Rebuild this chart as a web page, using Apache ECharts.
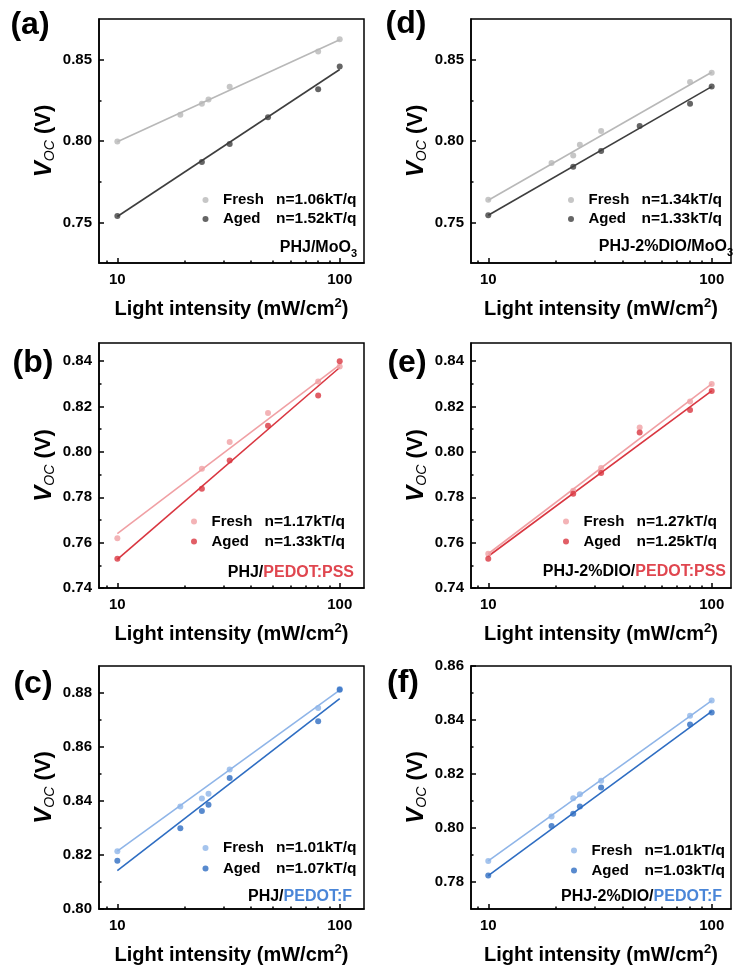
<!DOCTYPE html>
<html><head><meta charset="utf-8">
<script src="https://cdn.jsdelivr.net/npm/echarts@6/dist/echarts.min.js"></script>
<style>html,body{margin:0;padding:0;background:#fff}#c{width:733px;height:968px}</style>
</head><body><div id="c"></div>
<script>
// ---------- data ----------
const intensity = [10, 19.2, 24, 25.7, 32, 47.6, 80, 100];   // mW/cm2
const freshA = [0.7998, 0.8162, 0.8231, 0.8256, 0.8335, null, 0.8552, 0.8628];
const agedA  = [0.7540, null, 0.7871, null, 0.7982, 0.8147, 0.8319, 0.8460];
const freshD = [0.7640, 0.7865, 0.7912, 0.7978, 0.8063, null, 0.8364, 0.8421];
const agedD  = [0.7544, null, 0.7843, null, 0.7939, 0.8094, 0.8231, 0.8337];
const freshB = [0.7619, null, 0.7926, null, 0.8044, 0.8171, 0.8310, 0.8376];
const agedB  = [0.7529, null, 0.7838, null, 0.7962, 0.8115, 0.8249, 0.8400];
const freshE = [0.7551, null, 0.7829, null, 0.7929, 0.8107, 0.8222, 0.8299];
const agedE  = [0.7529, null, 0.7816, null, 0.7907, 0.8085, 0.8185, 0.8268];
const freshC = [0.8214, 0.8380, 0.8409, 0.8427, 0.8517, null, 0.8744, 0.8815];
const agedC  = [0.8179, 0.8299, 0.8363, 0.8386, 0.8485, null, 0.8695, 0.8812];
const freshF = [0.7878, 0.8043, 0.8110, 0.8125, 0.8175, null, 0.8416, 0.8472];
const agedF  = [0.7824, 0.8007, 0.8053, 0.8080, 0.8150, null, 0.8383, 0.8428];

// linear fits (Voc vs log intensity), values at the fit ends
const fitX = [10, 100];
const fitFreshA = [0.7996, 0.8624], fitAgedA = [0.7536, 0.8441];
const fitFreshD = [0.7636, 0.8424], fitAgedD = [0.7544, 0.8336];
const fitFreshB = [0.7640, 0.8384], fitAgedB = [0.7526, 0.8372];
const fitFreshE = [0.7551, 0.8300], fitAgedE = [0.7540, 0.8269];
const fitFreshC = [0.8214, 0.8811], fitAgedC = [0.8142, 0.8779];
const fitFreshF = [0.7878, 0.8472], fitAgedF = [0.7824, 0.8432];

// ideality factors (legend)
const nA = ['1.06', '1.52'], nD = ['1.34', '1.33'], nB = ['1.17', '1.33'];
const nE = ['1.27', '1.25'], nC = ['1.01', '1.07'], nF = ['1.01', '1.03'];

// tick values
const xMajorTicks = [10, 100];
const xMinorTicks = [9, 20, 30, 40, 50, 60, 70, 80, 90];
const yMajorAD = [0.75, 0.80, 0.85], yMinorAD = [0.775, 0.825];
const yMajorBE = [0.74, 0.76, 0.78, 0.80, 0.82, 0.84], yMinorBE = [0.75, 0.77, 0.79, 0.81, 0.83];
const yMajorC = [0.80, 0.82, 0.84, 0.86, 0.88], yMinorC = [0.81, 0.83, 0.85, 0.87];
const yMajorF = [0.78, 0.80, 0.82, 0.84, 0.86], yMinorF = [0.79, 0.81, 0.83, 0.85];

// ---------- styling / layout ----------
const FONT = '"Liberation Sans", Arial, sans-serif';
const GRAY = ['#b8b8b8', '#3e3e3e'];
const RED = ['#f0a0a4', '#d93640'];
const BLUE = ['#8fb5e8', '#2e6dc2'];
const RED_TXT = '#e0464f', BLUE_TXT = '#4a86d8';

const panels = [
  {key:'a', fresh:freshA, aged:agedA, fitF:fitFreshA, fitA:fitAgedA, n:nA, col:GRAY,
   grid:{left:99, top:19, width:265, height:244}, x:[8.27, 128.6], y:[0.725, 0.8752], maj:yMajorAD, min:yMinorAD,
   letter:[30, 25], leg:{left:202.5, top:192, gap:3}, note:{x:357, y:248, text:'PHJ/MoO{s|3}'}},
  {key:'d', fresh:freshD, aged:agedD, fitF:fitFreshD, fitA:fitAgedD, n:nD, col:GRAY,
   grid:{left:471, top:19, width:260, height:244}, x:[8.37, 122], y:[0.725, 0.8752], maj:yMajorAD, min:yMinorAD,
   letter:[406, 24], leg:{left:568, top:192, gap:3}, note:{x:733, y:247, text:'PHJ-2%DIO/MoO{s|3}'}},
  {key:'b', fresh:freshB, aged:agedB, fitF:fitFreshB, fitA:fitAgedB, n:nB, col:RED,
   grid:{left:99, top:343, width:265, height:245}, x:[8.27, 128.6], y:[0.74, 0.848], maj:yMajorBE, min:yMinorBE,
   letter:[33, 363], leg:{left:191, top:513.5, gap:4}, note:{x:354, y:573, text:'PHJ/{r|PEDOT:PSS}'}},
  {key:'e', fresh:freshE, aged:agedE, fitF:fitFreshE, fitA:fitAgedE, n:nE, col:RED,
   grid:{left:471, top:343, width:260, height:245}, x:[8.37, 122], y:[0.74, 0.848], maj:yMajorBE, min:yMinorBE,
   letter:[407, 363], leg:{left:563, top:513.5, gap:4}, note:{x:726, y:572, text:'PHJ-2%DIO/{r|PEDOT:PSS}'}},
  {key:'c', fresh:freshC, aged:agedC, fitF:fitFreshC, fitA:fitAgedC, n:nC, col:BLUE,
   grid:{left:99, top:666, width:265, height:245}, x:[8.27, 128.6], y:[0.80, 0.89], maj:yMajorC, min:yMinorC,
   letter:[33, 684], leg:{left:202.5, top:840, gap:4.5}, note:{x:352, y:897, text:'PHJ/{b|PEDOT:F}'}},
  {key:'f', fresh:freshF, aged:agedF, fitF:fitFreshF, fitA:fitAgedF, n:nF, col:BLUE,
   grid:{left:471, top:666, width:260, height:245}, x:[8.37, 122], y:[0.77, 0.86], maj:yMajorF, min:yMinorF,
   letter:[403, 683], leg:{left:571, top:842.5, gap:4}, note:{x:722, y:897, text:'PHJ-2%DIO/{b|PEDOT:F}'}}
];

const grids = [], xAxes = [], yAxes = [], series = [], legends = [], graphics = [];
const black = {color:'#000', width:1.5};
const pairs = (xs, ys) => xs.map((x, i) => ys[i] == null ? null : [x, ys[i]]).filter(Boolean);

panels.forEach((p, i) => {
  grids.push(Object.assign({show:true, borderColor:'#000', borderWidth:1.5, backgroundColor:'transparent'}, p.grid));
  const lx = [Math.log10(p.x[0]), Math.log10(p.x[1])];
  xAxes.push({
    type:'log', logBase:10, gridIndex:i, min:p.x[0], max:p.x[1], position:'bottom',
    axisLine:{show:true, lineStyle:black}, axisTick:{show:false}, splitLine:{show:false}, minorTick:{show:false},
    axisLabel:{showMinLabel:false, showMaxLabel:false, fontFamily:FONT, fontWeight:'bold', fontSize:15, color:'#000', margin:9},
    name:'Light intensity (mW/cm{sup|2})', nameLocation:'middle', nameGap:34,
    nameTextStyle:{fontFamily:FONT, fontWeight:'bold', fontSize:20, color:'#000', lineHeight:24,
      rich:{sup:{fontFamily:FONT, fontWeight:'bold', fontSize:13, color:'#000', verticalAlign:'top', lineHeight:13}}}
  });
  xAxes.push({
    type:'value', gridIndex:i, min:lx[0], max:lx[1], position:'bottom',
    axisLine:{show:false}, axisLabel:{show:false}, splitLine:{show:false},
    axisTick:{show:true, inside:true, length:5, lineStyle:black, customValues:xMajorTicks.map(Math.log10)}
  });
  xAxes.push({
    type:'value', gridIndex:i, min:lx[0], max:lx[1], position:'bottom',
    axisLine:{show:false}, axisLabel:{show:false}, splitLine:{show:false},
    axisTick:{show:true, inside:true, length:2.5, lineStyle:black, customValues:xMinorTicks.map(Math.log10)}
  });
  yAxes.push({
    type:'value', gridIndex:i, min:p.y[0], max:p.y[1], position:'left',
    axisLine:{show:true, lineStyle:black}, splitLine:{show:false},
    axisTick:{show:true, inside:true, length:5, lineStyle:black, customValues:p.maj},
    axisLabel:{customValues:p.maj, formatter:v => v.toFixed(2), fontFamily:FONT, fontWeight:'bold', fontSize:15, color:'#000', margin:7},
    name:'{v|V}{s|OC}{p| (V)}', nameLocation:'middle', nameGap:42,
    nameTextStyle:{fontFamily:FONT, color:'#000', lineHeight:26, rich:{
      v:{fontFamily:FONT, fontWeight:'bold', fontStyle:'italic', fontSize:24, color:'#000'},
      s:{fontFamily:FONT, fontStyle:'italic', fontSize:14, color:'#000', verticalAlign:'bottom'},
      p:{fontFamily:FONT, fontWeight:'bold', fontSize:22, color:'#000'}}}
  });
  yAxes.push({
    type:'value', gridIndex:i, min:p.y[0], max:p.y[1], position:'left',
    axisLine:{show:false}, axisLabel:{show:false}, splitLine:{show:false},
    axisTick:{show:true, inside:true, length:2.5, lineStyle:black, customValues:p.min}
  });
  const xi = 3 * i, yi = 2 * i;
  const nameF = p.key + '_fresh', nameA = p.key + '_aged';
  series.push({type:'line', xAxisIndex:xi, yAxisIndex:yi, data:pairs(fitX, p.fitF), showSymbol:false, silent:true,
    lineStyle:{color:p.col[0], width:1.6}, z:2});
  series.push({type:'line', xAxisIndex:xi, yAxisIndex:yi, data:pairs(fitX, p.fitA), showSymbol:false, silent:true,
    lineStyle:{color:p.col[1], width:1.6}, z:2});
  series.push({name:nameF, type:'scatter', xAxisIndex:xi, yAxisIndex:yi, data:pairs(intensity, p.fresh),
    symbol:'circle', symbolSize:6, itemStyle:{color:p.col[0]}, z:3});
  series.push({name:nameA, type:'scatter', xAxisIndex:xi, yAxisIndex:yi, data:pairs(intensity, p.aged),
    symbol:'circle', symbolSize:6, itemStyle:{color:p.col[1]}, z:3});
  const labels = {};
  labels[nameF] = '{l|Fresh}{r|n=' + p.n[0] + 'kT/q}';
  labels[nameA] = '{l|Aged}{r|n=' + p.n[1] + 'kT/q}';
  legends.push({
    data:[nameF, nameA], orient:'vertical', left:p.leg.left, top:p.leg.top, padding:0,
    itemWidth:25, itemHeight:6, itemGap:p.leg.gap, icon:'circle', selectedMode:false,
    formatter:name => labels[name],
    textStyle:{fontFamily:FONT, fontWeight:'bold', fontSize:15, color:'#000', lineHeight:16,
      rich:{l:{width:53, fontFamily:FONT, fontWeight:'bold', fontSize:15, color:'#000'},
            r:{fontFamily:FONT, fontWeight:'bold', fontSize:15.5, color:'#000'}}}
  });
  graphics.push({type:'text', x:p.letter[0], y:p.letter[1], silent:true,
    style:{text:'(' + p.key + ')', font:'bold 32px ' + FONT, fill:'#000', align:'center', verticalAlign:'middle'}});
  graphics.push({type:'text', x:p.note.x, y:p.note.y, silent:true,
    style:{text:p.note.text, font:'bold 16px ' + FONT, fill:'#000', align:'right', verticalAlign:'middle', lineHeight:22,
      rich:{s:{font:'bold 11px ' + FONT, fill:'#000', verticalAlign:'bottom'},
            r:{font:'bold 16px ' + FONT, fill:RED_TXT},
            b:{font:'bold 16px ' + FONT, fill:BLUE_TXT}}}});
});

const chart = echarts.init(document.getElementById('c'), null, {renderer:'canvas'});
chart.setOption({
  animation:false, backgroundColor:'#fff',
  grid:grids, xAxis:xAxes, yAxis:yAxes, series:series, legend:legends, graphic:graphics
});
</script></body></html>
